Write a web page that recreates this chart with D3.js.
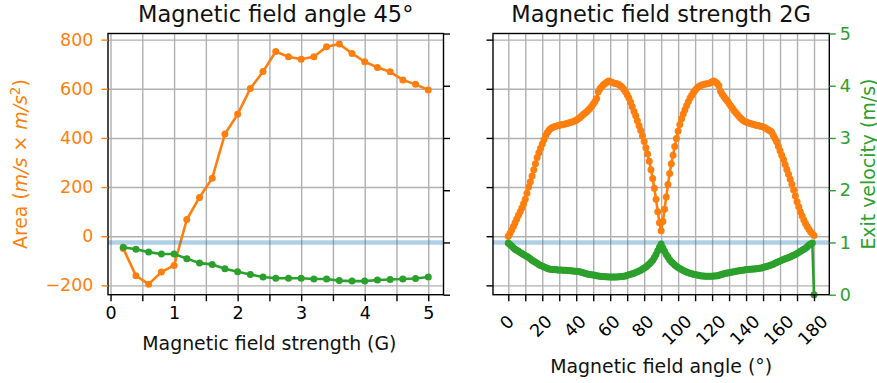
<!DOCTYPE html>
<html>
<head>
<meta charset="utf-8">
<script src="https://cdn.jsdelivr.net/npm/d3@7/dist/d3.min.js"></script>
<style>
  body { margin: 0; background: #ffffff; }
  svg text { font-family: "DejaVu Sans", sans-serif; }
</style>
</head>
<body>
<svg id="chart" width="877" height="383"></svg>
<script>
// ---- Sweep over field strength at a fixed 45° angle ----
const strengths = [0.2, 0.4, 0.6, 0.8, 1.0, 1.2, 1.4, 1.6, 1.8, 2.0, 2.2, 2.4, 2.6,
                   2.8, 3.0, 3.2, 3.4, 3.6, 3.8, 4.0, 4.2, 4.4, 4.6, 4.8, 5.0];
const areaByStrength = [-50, -161, -195, -146, -119, 68, 158, 236, 416, 496, 601, 670, 752,
                        730, 720, 730, 771, 782, 744, 710, 687, 669, 636, 618, 595];
const velocityByStrength = [0.91, 0.87, 0.815, 0.78, 0.78, 0.69, 0.605, 0.58, 0.495, 0.44, 0.385, 0.34, 0.315,
                            0.315, 0.315, 0.30, 0.30, 0.27, 0.26, 0.26, 0.28, 0.29, 0.30, 0.31, 0.34];

// ---- Sweep over field angle (0°..180°, 1° steps) at 2 G ----
const angles = d3.range(0, 181, 1);
const areaByAngle = [
  0, 12, 25, 40, 55, 70, 85, 100, 115, 132,
  150, 175, 200, 222, 245, 270, 295, 320, 340, 358,
  375, 393, 410, 422, 432, 438, 442, 446, 448, 450,
  452, 453, 455, 456, 458, 460, 462, 464, 466, 469,
  472, 477, 482, 488, 494, 500, 506, 513, 520, 528,
  538, 548, 560, 588, 600, 608, 616, 622, 627, 632,
  630, 627, 624, 622, 620, 617, 612, 606, 598, 588,
  576, 562, 545, 527, 508, 490, 470, 450, 430, 408,
  385, 360, 335, 305, 270, 235, 195, 150, 100, 55,
  22, 60, 110, 160, 210, 255, 295, 330, 365, 398,
  428, 455, 478, 497, 515, 532, 547, 562, 574, 585,
  594, 602, 608, 612, 615, 617, 619, 620, 622, 625,
  629, 632, 628, 622, 612, 590, 578, 568, 558, 550,
  540, 530, 521, 511, 502, 494, 486, 479, 473, 468,
  465, 462, 460, 458, 456, 454, 452, 451, 449, 447,
  445, 441, 437, 433, 429, 424, 412, 398, 384, 366,
  348, 330, 312, 292, 272, 252, 232, 212, 188, 164,
  140, 120, 100, 82, 66, 52, 40, 28, 18, 10,
  3
];
const velocityByAngle = [
  0.99, 0.96, 0.93, 0.90, 0.87, 0.85, 0.83, 0.81, 0.79, 0.77,
  0.75, 0.73, 0.71, 0.69, 0.66, 0.64, 0.62, 0.60, 0.58, 0.56,
  0.55, 0.53, 0.52, 0.50, 0.49, 0.485, 0.48, 0.48, 0.48, 0.475,
  0.475, 0.475, 0.47, 0.47, 0.47, 0.465, 0.46, 0.46, 0.455, 0.45,
  0.45, 0.445, 0.44, 0.43, 0.42, 0.41, 0.40, 0.39, 0.385, 0.38,
  0.375, 0.37, 0.365, 0.36, 0.355, 0.35, 0.35, 0.345, 0.345, 0.34,
  0.34, 0.34, 0.34, 0.34, 0.34, 0.345, 0.345, 0.35, 0.355, 0.36,
  0.37, 0.38, 0.39, 0.40, 0.41, 0.425, 0.44, 0.455, 0.47, 0.49,
  0.51, 0.53, 0.56, 0.59, 0.62, 0.66, 0.71, 0.77, 0.84, 0.91,
  0.97, 0.90, 0.83, 0.77, 0.72, 0.67, 0.63, 0.60, 0.57, 0.545,
  0.52, 0.50, 0.48, 0.465, 0.45, 0.435, 0.42, 0.41, 0.40, 0.39,
  0.385, 0.375, 0.37, 0.365, 0.36, 0.36, 0.355, 0.355, 0.355, 0.355,
  0.355, 0.36, 0.36, 0.365, 0.37, 0.38, 0.39, 0.40, 0.41, 0.415,
  0.42, 0.43, 0.435, 0.44, 0.45, 0.455, 0.46, 0.465, 0.47, 0.475,
  0.48, 0.48, 0.485, 0.485, 0.49, 0.49, 0.495, 0.50, 0.505, 0.51,
  0.52, 0.53, 0.54, 0.55, 0.56, 0.575, 0.585, 0.60, 0.615, 0.63,
  0.645, 0.66, 0.675, 0.69, 0.70, 0.71, 0.72, 0.74, 0.755, 0.77,
  0.79, 0.81, 0.83, 0.85, 0.87, 0.89, 0.92, 0.95, 0.97, 0.99,
  0
];

// ---- Tick values ----
const areaTicks = [-200, 0, 200, 400, 600, 800];
const velocityTicks = [0, 1, 2, 3, 4, 5];
const strengthTicks = [0, 0.5, 1, 1.5, 2, 2.5, 3, 3.5, 4, 4.5, 5];
const strengthLabels = [0, 1, 2, 3, 4, 5];
const angleTicks = [0, 10, 20, 30, 40, 50, 60, 70, 80, 90, 100, 110, 120, 130, 140, 150, 160, 170, 180];
const angleLabels = [0, 20, 40, 60, 80, 100, 120, 140, 160, 180];
const referenceVelocity = 1;

// ---- Styling ----
const ORANGE = "#ff7f0e", GREEN = "#2ca02c", BLUE = "#1f77b4", INK = "#000000", GRID = "#b0b0b0";
const TICK_FONT = 17.5, LABEL_FONT = 18.9, TITLE_FONT = 22.5;
const TICK_LEN = 6.5;

const svg = d3.select("#chart");
const plotTop = 33.5, plotBottom = 294.7;

const yArea = d3.scaleLinear().domain([-238, 825]).range([plotBottom, plotTop]);
const yVel = d3.scaleLinear().domain([0, 5]).range([plotBottom, plotTop]);

function drawPanel(opts) {
  const { x, xTicks, xs, area, vel, title } = opts;
  const [x0, x1] = x.range();
  const g = svg.append("g");

  // grid
  const grid = g.append("g");
  grid.append("g").attr("transform", `translate(0,${plotBottom})`)
    .call(d3.axisBottom(x).tickValues(xTicks).tickSize(-(plotBottom - plotTop)).tickFormat(""))
    .call(s => s.select(".domain").remove())
    .call(s => s.selectAll("line").attr("stroke", GRID).attr("stroke-width", 1.4));
  grid.append("g").attr("transform", `translate(${x0},0)`)
    .call(d3.axisLeft(yArea).tickValues(areaTicks).tickSize(-(x1 - x0)).tickFormat(""))
    .call(s => s.select(".domain").remove())
    .call(s => s.selectAll("line").attr("stroke", GRID).attr("stroke-width", 1.4));

  // area series
  const areaPts = xs.map((v, i) => [x(v), yArea(area[i])]);
  g.append("path").attr("d", d3.line()(areaPts))
    .attr("fill", "none").attr("stroke", ORANGE).attr("stroke-width", 2.6).attr("stroke-linejoin", "round");
  g.append("g").selectAll("circle").data(areaPts).join("circle")
    .attr("cx", d => d[0]).attr("cy", d => d[1]).attr("r", 3.5).attr("fill", ORANGE);

  // reference velocity line
  g.append("line").attr("x1", x0).attr("x2", x1)
    .attr("y1", yVel(referenceVelocity)).attr("y2", yVel(referenceVelocity))
    .attr("stroke", BLUE).attr("stroke-opacity", 0.35).attr("stroke-width", 4.5);

  // velocity series
  const velPts = xs.map((v, i) => [x(v), yVel(vel[i])]);
  g.append("path").attr("d", d3.line()(velPts))
    .attr("fill", "none").attr("stroke", GREEN).attr("stroke-width", 2.6).attr("stroke-linejoin", "round");
  g.append("g").selectAll("circle").data(velPts).join("circle")
    .attr("cx", d => d[0]).attr("cy", d => d[1]).attr("r", 3.5).attr("fill", GREEN);

  // frame
  g.append("rect").attr("x", x0).attr("y", plotTop).attr("width", x1 - x0).attr("height", plotBottom - plotTop)
    .attr("fill", "none").attr("stroke", INK).attr("stroke-width", 1.4);

  // title
  g.append("text").attr("x", (x0 + x1) / 2).attr("y", 22).attr("text-anchor", "middle")
    .attr("font-size", TITLE_FONT).attr("fill", "#111").text(title);

  return g;
}

function styleAxis(sel, color) {
  sel.select(".domain").remove();
  sel.selectAll(".tick line").attr("stroke", color).attr("stroke-width", 1.4);
  sel.selectAll(".tick text").attr("fill", color).attr("font-size", TICK_FONT)
    .attr("font-family", "DejaVu Sans, sans-serif");
}

// ===== Left panel: strength sweep =====
const xStrength = d3.scaleLinear().domain([-0.04, 5.24]).range([108, 443.5]);
const left = drawPanel({ x: xStrength, xTicks: strengthTicks, xs: strengths,
  area: areaByStrength, vel: velocityByStrength, title: "Magnetic field angle 45°" });

left.append("g").attr("transform", `translate(0,${plotBottom})`)
  .call(d3.axisBottom(xStrength).tickValues(strengthTicks).tickSize(TICK_LEN).tickPadding(5)
    .tickFormat(d => strengthLabels.includes(d) ? d3.format("d")(d) : ""))
  .call(s => styleAxis(s, INK));

left.append("g").attr("transform", `translate(108,0)`)
  .call(d3.axisLeft(yArea).tickValues(areaTicks).tickSize(TICK_LEN).tickPadding(8)
    .tickFormat(d => d < 0 ? "\u2212" + Math.abs(d) : String(d)))
  .call(s => styleAxis(s, ORANGE));

left.append("g").attr("transform", `translate(443.5,0)`)
  .call(d3.axisRight(yVel).tickValues(velocityTicks).tickSize(TICK_LEN).tickFormat(""))
  .call(s => styleAxis(s, INK));

left.append("text").attr("x", xStrength(2.5)).attr("y", 350).attr("text-anchor", "middle")
  .attr("font-size", LABEL_FONT).attr("fill", "#111").text("Magnetic field strength (G)");

const areaLabel = left.append("text")
  .attr("transform", `translate(27,${(plotTop + plotBottom) / 2}) rotate(-90)`)
  .attr("text-anchor", "middle").attr("font-size", LABEL_FONT).attr("fill", ORANGE);
areaLabel.append("tspan").text("Area (");
areaLabel.append("tspan").attr("font-style", "italic").text("m/s");
areaLabel.append("tspan").text(" \u00d7 ");
areaLabel.append("tspan").attr("font-style", "italic").text("m/s");
areaLabel.append("tspan").attr("font-size", 13.5).attr("dy", -7).text("2");
areaLabel.append("tspan").attr("dy", 7).text(")");

// ===== Right panel: angle sweep =====
const xAngle = d3.scaleLinear().domain([-9, 189]).range([493, 829.3]);
const right = drawPanel({ x: xAngle, xTicks: angleTicks, xs: angles,
  area: areaByAngle, vel: velocityByAngle, title: "Magnetic field strength 2G" });

const angleAxis = right.append("g").attr("transform", `translate(0,${plotBottom})`)
  .call(d3.axisBottom(xAngle).tickValues(angleTicks).tickSize(TICK_LEN)
    .tickFormat(d => angleLabels.includes(d) ? String(d) : ""))
  .call(s => styleAxis(s, INK));

// rotated angle labels, centred on their ticks
angleAxis.selectAll(".tick text").each(function () {
  const t = d3.select(this);
  if (!t.text()) return;
  const w = this.getComputedTextLength();
  const cy = 311 - plotBottom + (w + 20) * 0.3536;
  t.attr("y", null).attr("dy", "0.36em").attr("x", null)
    .attr("text-anchor", "middle")
    .attr("transform", `translate(-2,${cy}) rotate(-45)`);
});

right.append("g").attr("transform", `translate(493,0)`)
  .call(d3.axisLeft(yArea).tickValues(areaTicks).tickSize(TICK_LEN).tickFormat(""))
  .call(s => styleAxis(s, INK));

right.append("g").attr("transform", `translate(829.3,0)`)
  .call(d3.axisRight(yVel).tickValues(velocityTicks).tickSize(TICK_LEN).tickPadding(4)
    .tickFormat(d3.format("d")))
  .call(s => styleAxis(s, GREEN));

right.append("text").attr("x", xAngle(90)).attr("y", 373).attr("text-anchor", "middle")
  .attr("font-size", LABEL_FONT).attr("fill", "#111").text("Magnetic field angle (°)");

right.append("text")
  .attr("transform", `translate(874.5,${(plotTop + plotBottom) / 2}) rotate(-90)`)
  .attr("text-anchor", "middle").attr("font-size", LABEL_FONT).attr("fill", GREEN)
  .text("Exit velocity (m/s)");
</script>
</body>
</html>
